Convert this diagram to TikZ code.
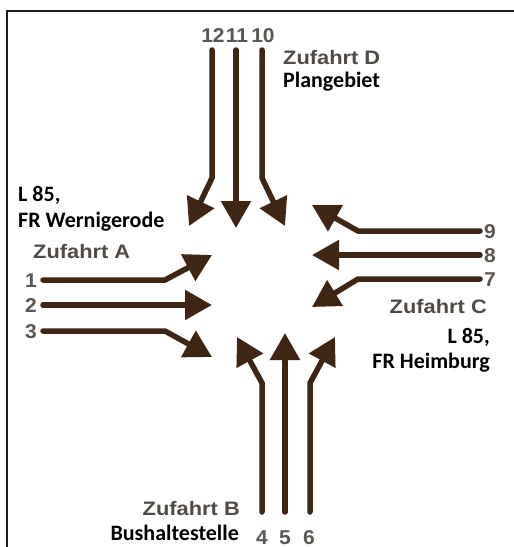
\documentclass[tikz,border=0pt]{standalone}
\usepackage{fontspec}
\setmainfont{Carlito}
\newfontfamily\zufont[FakeStretch=1.12]{Liberation Sans}
\newfontfamily\numfont[FakeStretch=1.05]{Liberation Sans}
\usetikzlibrary{arrows.meta}
\definecolor{lanebrown}{RGB}{62,37,20}
\definecolor{labelgray}{RGB}{80,74,68}
\definecolor{numgray}{RGB}{90,86,82}

\begin{document}
\begin{tikzpicture}[x=1pt,y=-1pt,
  lane/.style={draw=lanebrown, line width=5.5pt, line cap=round,
    -{Triangle[length=27pt,width=29pt]}},
  approach/.style={inner sep=0pt, text=labelgray,
    font=\zufont\bfseries\fontsize{19.5}{22}\selectfont},
  lanenum/.style={inner sep=0pt, anchor=base, text=numgray,
    font=\numfont\bfseries\fontsize{20}{22}\selectfont},
  roadname/.style={inner sep=0pt, text=black,
    font=\bfseries\fontsize{22}{25}\selectfont}]

\useasboundingbox (0,0) rectangle (514,547);
\fill[white] (0,0) rectangle (514,547);

% frame (open to the right and bottom)
\draw[line width=2.5pt, black!88] (7,547) -- (7,11) -- (514,11);

% ---- Zufahrt A (west) ----
\coordinate (a1s) at (43,280);  \coordinate (a1b) at (165,280); \coordinate (a1t) at (212,255);
\coordinate (a2s) at (43,305);  \coordinate (a2t) at (212,305);
\coordinate (a3s) at (43,331);  \coordinate (a3b) at (165,331); \coordinate (a3t) at (212,357);
\draw[lane] (a1s) -- (a1b) -- (a1t);
\draw[lane] (a2s) -- (a2t);
\draw[lane] (a3s) -- (a3b) -- (a3t);
\node[lanenum] (n1) at (31,287) {1};
\node[lanenum] (n2) at (31,312) {2};
\node[lanenum] (n3) at (31,338) {3};
\node[approach, anchor=base west] (zA) at (33,258) {Zufahrt A};
\node[roadname, anchor=base west] (rA1) at (18,201) {L 85,};
\node[roadname, anchor=base west] (rA2) at (18,227) {FR Wernigerode};

% ---- Zufahrt C (east) ----
\coordinate (c9s) at (480,231); \coordinate (c9b) at (358,231); \coordinate (c9t) at (312,205);
\coordinate (c8s) at (480,255); \coordinate (c8t) at (312,255);
\coordinate (c7s) at (480,279); \coordinate (c7b) at (358,279); \coordinate (c7t) at (312,307);
\draw[lane] (c9s) -- (c9b) -- (c9t);
\draw[lane] (c8s) -- (c8t);
\draw[lane] (c7s) -- (c7b) -- (c7t);
\node[lanenum] (n9) at (490,238) {9};
\node[lanenum] (n8) at (490,262) {8};
\node[lanenum] (n7) at (490,286) {7};
\node[approach, anchor=base east] (zC) at (487,313) {Zufahrt C};
\node[roadname, anchor=base east] (rC1) at (490,343) {L 85,};
\node[roadname, anchor=base east] (rC2) at (490,368) {FR Heimburg};

% ---- Zufahrt D (north) ----
\coordinate (d12s) at (212,50); \coordinate (d12b) at (212,178); \coordinate (d12t) at (189,226);
\coordinate (d11s) at (236,50); \coordinate (d11t) at (236,228);
\coordinate (d10s) at (262,50); \coordinate (d10b) at (262,178); \coordinate (d10t) at (285,226);
\draw[lane] (d12s) -- (d12b) -- (d12t);
\draw[lane] (d11s) -- (d11t);
\draw[lane] (d10s) -- (d10b) -- (d10t);
\node[lanenum] (n12) at (213,42) {12};
\node[lanenum] (n11) at (237,42) {11};
\node[lanenum] (n10) at (263,42) {10};
\node[approach, anchor=base west] (zD) at (283,64) {Zufahrt D};
\node[roadname, anchor=base west] (rD) at (283,87) {Plangebiet};

% ---- Zufahrt B (south) ----
\coordinate (b4s) at (262,512); \coordinate (b4b) at (262,383); \coordinate (b4t) at (237,337);
\coordinate (b5s) at (285,512); \coordinate (b5t) at (285,333);
\coordinate (b6s) at (310,512); \coordinate (b6b) at (310,383); \coordinate (b6t) at (335,337);
\draw[lane] (b4s) -- (b4b) -- (b4t);
\draw[lane] (b5s) -- (b5t);
\draw[lane] (b6s) -- (b6b) -- (b6t);
\node[lanenum] (n4) at (262,544) {4};
\node[lanenum] (n5) at (285,544) {5};
\node[lanenum] (n6) at (309,544) {6};
\node[approach, anchor=base east] (zB) at (240,515) {Zufahrt B};
\node[roadname, anchor=base east] (rB) at (239,540) {Bushaltestelle};

\end{tikzpicture}
\end{document}
